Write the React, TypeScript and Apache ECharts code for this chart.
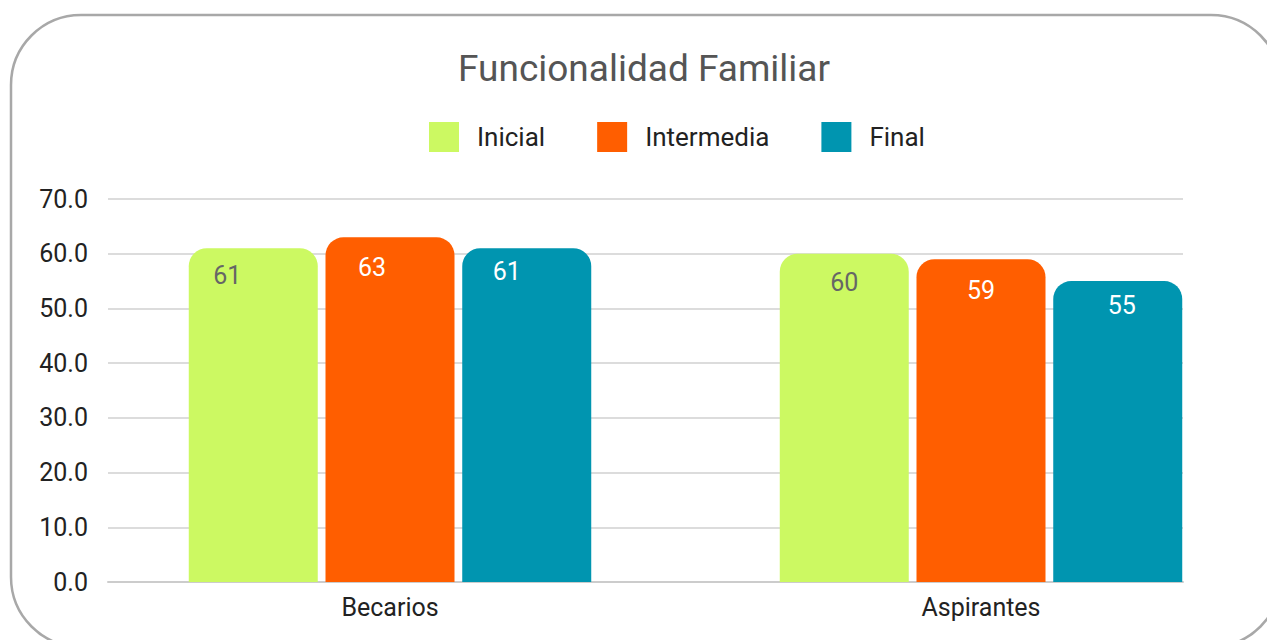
import React, { useEffect, useRef } from "react";
import * as echarts from "echarts";

const categories = ["Becarios", "Aspirantes"];
const seriesNames = ["Inicial", "Intermedia", "Final"];
const inicial = [61, 60];
const intermedia = [63, 59];
const final = [61, 55];
const yTicks = [0, 10, 20, 30, 40, 50, 60, 70];

const colors = ["#CCF962", "#FF5E00", "#0095B0"];
const labelColors = ["#666666", "#ffffff", "#ffffff"];
const labelOffsets = [
  [[-26, 2.5], [0, 4.5]],
  [[-18, 6], [0, 6.5]],
  [[-20, -1.5], [4, -0.5]],
];

export default function App() {
  const ref = useRef<HTMLDivElement>(null);
  useEffect(() => {
    if (!ref.current) return;
    const chart = echarts.init(ref.current, null, { renderer: "svg" });
    const values = [inicial, intermedia, final];
    const font = "Roboto";
    const option: any = {
      animation: false,
      textStyle: { fontFamily: font },
      title: {
        text: "Funcionalidad Familiar",
        left: 458,
        top: 49.5,
        padding: 0,
        textStyle: { fontSize: 37, fontWeight: "normal", color: "#555555", fontFamily: font },
      },
      legend: {
        data: seriesNames,
        left: 429,
        top: 122,
        padding: 0,
        itemWidth: 30,
        itemHeight: 30,
        itemGap: 52,
        icon: "rect",
        textStyle: { fontSize: 26, color: "#222222", fontFamily: font, padding: [0, 0, 0, 13] },
      },
      graphic: [
        {
          type: "rect",
          shape: { x: 11, y: 15, width: 1270, height: 632, r: 70 },
          style: { fill: "none", stroke: "#a8a8a8", lineWidth: 2.5 },
          silent: true,
          z: -10,
        },
      ],
      grid: [
        { left: 108, right: 117, top: 199, bottom: 58 },
        { left: 94.5, width: 1182, top: 199, bottom: 58 },
      ],
      xAxis: [
        {
          type: "category",
          gridIndex: 0,
          data: categories,
          show: true,
          axisLine: { show: true, lineStyle: { color: "#cccccc", width: 2 } },
          axisTick: { show: false },
          axisLabel: { show: false },
        },
        {
          type: "category",
          gridIndex: 1,
          data: categories,
          axisLine: { show: false },
          axisTick: { show: false },
          axisLabel: { fontSize: 25, color: "#222222", margin: 13, fontFamily: font },
        },
      ],
      yAxis: [
        {
          type: "value",
          gridIndex: 0,
          min: 0,
          max: 70,
          interval: 10,
          axisLine: { show: false },
          axisTick: { show: false },
          splitLine: { lineStyle: { color: "#dcdcdc", width: 2 } },
          axisLabel: {
            fontSize: 25,
            color: "#222222",
            margin: 20,
            fontFamily: font,
            formatter: (v: number) => (yTicks.includes(v) ? v.toFixed(1) : ""),
          },
        },
        {
          type: "value",
          gridIndex: 1,
          min: 0,
          max: 70,
          interval: 10,
          show: false,
          splitLine: { show: false },
        },
      ],
      series: seriesNames.map((name, i) => ({
        name,
        type: "bar",
        xAxisIndex: 1,
        yAxisIndex: 1,
        barWidth: 129,
        barGap: "6%",
        itemStyle: { color: colors[i], borderRadius: [18, 18, 0, 0] },
        data: values[i].map((v, j) => ({
          value: v,
          label: { offset: labelOffsets[i][j] },
        })),
        label: {
          show: true,
          position: "insideTop",
          distance: 12,
          fontSize: 25,
          color: labelColors[i],
          fontFamily: font,
        },
      })),
    };
    chart.setOption(option);
    return () => chart.dispose();
  }, []);
  return (
    <div
      ref={ref}
      style={{ position: "fixed", left: 0, top: 0, width: 1300, height: 640, background: "#ffffff" }}
    />
  );
}
